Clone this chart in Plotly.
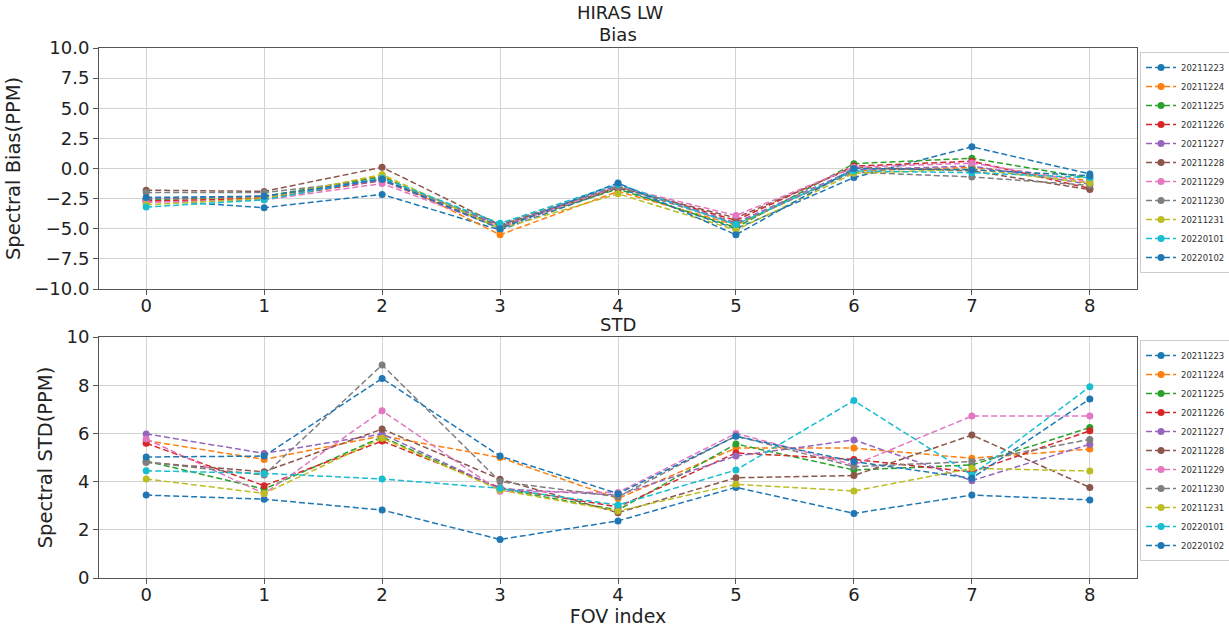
import plotly.graph_objects as go

fov = [0, 1, 2, 3, 4, 5, 6, 7, 8]
dates = ["20211223", "20211224", "20211225", "20211226", "20211227", "20211228",
         "20211229", "20211230", "20211231", "20220101", "20220102"]
colors = ["#1f77b4", "#ff7f0e", "#2ca02c", "#d62728", "#9467bd", "#8c564b",
          "#e377c2", "#7f7f7f", "#bcbd22", "#17becf", "#1f77b4"]

bias_20211223 = [-2.6, -3.25, -2.15, -5.1, -1.6, -5.0, -0.75, 1.8, -0.45]
bias_20211224 = [-2.8, -2.4, -0.6, -5.5, -1.9, -4.7, -0.2, 0.1, -1.0]
bias_20211225 = [-2.6, -2.3, -0.7, -4.8, -1.7, -4.9, 0.4, 0.85, -0.8]
bias_20211226 = [-2.7, -2.5, -1.0, -4.9, -1.5, -4.3, 0.2, 0.6, -1.65]
bias_20211227 = [-2.5, -2.3, -1.0, -4.7, -1.4, -4.5, -0.1, 0.2, -1.3]
bias_20211228 = [-1.8, -1.9, 0.1, -4.7, -1.6, -4.1, 0.1, -0.2, -1.75]
bias_20211229 = [-2.8, -2.6, -1.25, -4.9, -1.5, -3.9, 0.1, 0.45, -1.15]
bias_20211230 = [-2.0, -2.0, -0.9, -4.6, -1.5, -4.6, -0.3, -0.7, -1.4]
bias_20211231 = [-3.0, -2.5, -0.5, -5.0, -2.1, -5.1, -0.4, -0.05, -1.2]
bias_20220101 = [-3.2, -2.6, -0.8, -4.55, -1.3, -4.65, -0.2, -0.35, -0.75]
bias_20220102 = [-2.4, -2.3, -0.9, -5.0, -1.2, -5.5, 0.0, -0.1, -0.6]

std_20211223 = [3.44, 3.27, 2.82, 1.6, 2.37, 3.76, 2.68, 3.44, 3.24]
std_20211224 = [5.7, 4.92, 5.9, 5.0, 3.3, 5.39, 5.39, 4.97, 5.35]
std_20211225 = [4.85, 3.69, 5.85, 3.7, 2.82, 5.56, 4.48, 4.69, 6.24]
std_20211226 = [5.59, 3.83, 5.68, 3.75, 2.95, 5.19, 4.92, 4.4, 6.11]
std_20211227 = [5.98, 5.17, 5.98, 3.7, 3.44, 5.06, 5.73, 4.04, 5.55]
std_20211228 = [4.8, 4.41, 6.18, 4.1, 2.71, 4.16, 4.25, 5.93, 3.76]
std_20211229 = [5.77, 3.5, 6.94, 3.6, 3.55, 6.0, 4.69, 6.72, 6.72]
std_20211230 = [4.81, 4.27, 8.84, 4.0, 3.37, 5.9, 4.62, 4.83, 5.75]
std_20211231 = [4.11, 3.51, 5.8, 3.65, 2.78, 3.89, 3.61, 4.55, 4.44]
std_20220101 = [4.45, 4.34, 4.11, 3.72, 3.03, 4.48, 7.36, 4.27, 7.94]
std_20220102 = [5.02, 5.06, 8.28, 5.06, 3.5, 5.88, 4.83, 4.14, 7.43]

bias = [bias_20211223, bias_20211224, bias_20211225, bias_20211226, bias_20211227,
        bias_20211228, bias_20211229, bias_20211230, bias_20211231, bias_20220101,
        bias_20220102]
std = [std_20211223, std_20211224, std_20211225, std_20211226, std_20211227,
       std_20211228, std_20211229, std_20211230, std_20211231, std_20220101,
       std_20220102]

W, H = 1229, 635
ML, MR, MT, MB = 99, W - 1137, 48, H - 578
PW = W - ML - MR
PH = H - MT - MB

def dom_y(y_top, y_bot):
    return [(H - MB - y_bot) / PH, (H - MB - y_top) / PH]

def paper_x(xp):
    return (xp - ML) / PW

def paper_y(yp):
    return (H - MB - yp) / PH

fig = go.Figure()
dash = "6px,3px"
for i, d in enumerate(dates):
    fig.add_trace(go.Scatter(
        x=fov, y=bias[i], name=d, mode="lines+markers",
        line=dict(color=colors[i], width=1.5, dash=dash),
        marker=dict(color=colors[i], size=7, symbol="circle"),
        xaxis="x", yaxis="y", legend="legend"))
for i, d in enumerate(dates):
    fig.add_trace(go.Scatter(
        x=fov, y=std[i], name=d, mode="lines+markers",
        line=dict(color=colors[i], width=1.5, dash=dash),
        marker=dict(color=colors[i], size=7, symbol="circle"),
        xaxis="x2", yaxis="y2", legend="legend2"))

axcommon = dict(showline=True, linecolor="#555555", linewidth=1, mirror=True,
                ticks="outside", ticklen=5, tickcolor="#555555", automargin=False,
                showgrid=True, gridcolor="#d3d3d3", gridwidth=1, zeroline=False,
                tickfont=dict(size=18, color="#222222"))

legcommon = dict(font=dict(size=8.5, color="#333333"), bgcolor="rgba(255,255,255,0.8)",
                 bordercolor="#cccccc", borderwidth=1, xanchor="left", yanchor="top",
                 xref="container", yref="container", itemwidth=30, tracegroupgap=0)

def title_ann(text, xp, yp):
    return dict(text=text, x=paper_x(xp), y=paper_y(yp), xref="paper", yref="paper",
                showarrow=False, font=dict(size=18), xanchor="center", yanchor="middle")

fig.update_layout(
    width=W, height=H, autosize=False,
    margin=dict(l=ML, r=MR, t=MT, b=MB),
    paper_bgcolor="white", plot_bgcolor="white",
    font=dict(family="DejaVu Sans", color="#222222"),
    xaxis=dict(domain=[0, 1], range=[-0.4, 8.4], tickvals=fov, anchor="y",
               ticklabelstandoff=-5, **axcommon),
    yaxis=dict(domain=dom_y(48, 289), range=[-10, 10], dtick=2.5, tickformat=".1f", anchor="x",
               title=dict(text="Spectral Bias(PPM)", font=dict(size=19.5), standoff=8), **axcommon),
    xaxis2=dict(domain=[0, 1], range=[-0.4, 8.4], tickvals=fov, anchor="y2",
                ticklabelstandoff=-5,
                title=dict(text="FOV index", font=dict(size=19), standoff=2), **axcommon),
    yaxis2=dict(domain=dom_y(337, 578), range=[0, 10], dtick=2, anchor="x2",
                title=dict(text="Spectral STD(PPM)", font=dict(size=19.5), standoff=8), **axcommon),
    legend=dict(x=1140 / W, y=(H - 52) / H, **legcommon),
    legend2=dict(x=1140 / W, y=(H - 340) / H, **legcommon),
    annotations=[
        title_ann("HIRAS LW", 620, 12),
        title_ann("Bias", 618, 35),
        title_ann("STD", 618, 324),
    ],
)

fig.write_html("out.html")
